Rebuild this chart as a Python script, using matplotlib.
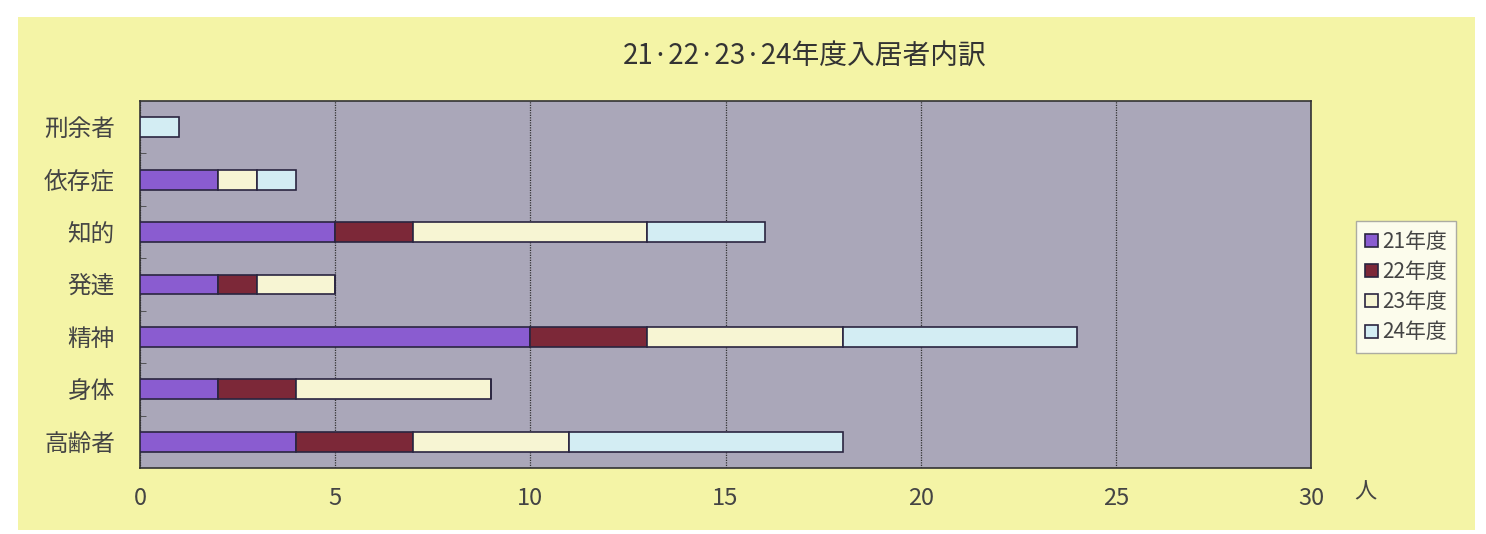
import matplotlib.pyplot as plt
from matplotlib.patches import Rectangle
import numpy as np

plt.rcParams['font.family'] = ['Noto Sans CJK JP', 'DejaVu Sans']

categories = ["刑余者", "依存症", "知的", "発達", "精神", "身体", "高齢者"]
years = ["21年度", "22年度", "23年度", "24年度"]
v21 = [0, 2, 5, 2, 10, 2, 4]
v22 = [0, 0, 2, 1, 3, 2, 3]
v23 = [0, 1, 6, 2, 5, 5, 4]
v24 = [1, 1, 3, 0, 6, 0, 7]
colors = ["#8a5cd0", "#7c2838", "#f7f5d3", "#d3edf3"]

fig = plt.figure(figsize=(14.86, 5.34), dpi=100, facecolor="white")
bg = Rectangle((18 / 1486, 1 - 530 / 534), 1457 / 1486, 513 / 534,
               transform=fig.transFigure, facecolor="#f4f4a6", edgecolor="none")
bg.set_zorder(-10)
fig.add_artist(bg)

ax = fig.add_axes([140 / 1486, 1 - 468 / 534, 1171 / 1486, 367 / 534])
ax.set_zorder(1)
ax.set_facecolor("#aaa7b9")

y = np.arange(len(categories))
left = np.zeros(len(categories))
for vals, c, lab in zip([v21, v22, v23, v24], colors, years):
    vals = np.array(vals)
    ax.barh(y, vals, left=left, height=0.38, color=c, edgecolor="#2a2540",
            linewidth=1.2, label=lab, zorder=3)
    left += vals

ax.set_xlim(0, 30)
ax.set_ylim(len(categories) - 0.5, -0.5)
ax.set_xticks(range(0, 31, 5))
ax.set_yticks(y)
ax.set_yticklabels(categories)
ax.set_yticks(np.arange(0.5, len(categories) - 1, 1), minor=True)
ax.tick_params(axis="y", which="minor", direction="in", length=4, color="#444")
ax.tick_params(axis="y", which="major", length=0, pad=18, labelsize=17, labelcolor="#444")
ax.tick_params(axis="x", length=0, pad=14, labelsize=17, labelcolor="#444")
ax.grid(axis="x", color="#333", linestyle=(0, (1, 1)), linewidth=0.9, zorder=1)
for s in ax.spines.values():
    s.set_color("#333")
    s.set_linestyle((0, (1, 1)))
    s.set_linewidth(1.2)

fig.text(805 / 1486, 1 - 57 / 534, "21·22·23·24年度入居者内訳", ha="center", va="center",
         fontsize=20, color="#333")
fig.text(1365 / 1486, 1 - 492 / 534, "人", ha="center", va="center", fontsize=16, color="#444")

leg = fig.legend(loc="center", bbox_to_anchor=(1406 / 1486, 1 - 287 / 534), fontsize=15,
                 handlelength=0.6, handleheight=0.6, handletextpad=0.2, labelspacing=0.4,
                 frameon=True, fancybox=False, borderpad=0.45)
leg.get_frame().set_facecolor("white")
leg.get_frame().set_edgecolor("#999")
for t in leg.get_texts():
    t.set_color("#444")

fig.savefig("out.png", dpi=100, facecolor="white")
